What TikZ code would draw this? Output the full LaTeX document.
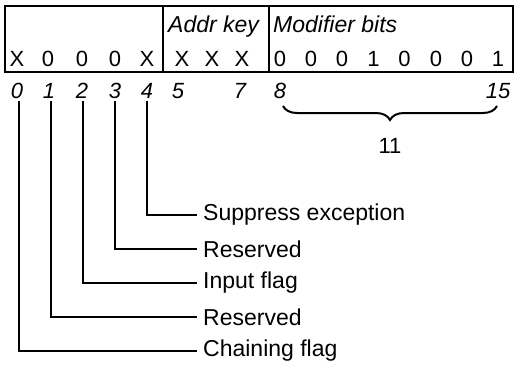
\documentclass[tikz,border=0pt]{standalone}
\usepackage{fontspec}
\setmainfont{Liberation Sans}
\usetikzlibrary{decorations.pathreplacing}
\begin{document}
\begin{tikzpicture}[x=1pt,y=-1pt,
  cell/.style={draw,line width=1.2pt,minimum height=66pt,inner sep=0pt},
  dig/.style={anchor=base,inner sep=0pt,font=\fontsize{22}{22}\selectfont},
  bitno/.style={anchor=base,inner sep=0pt,font=\fontsize{22}{22}\selectfont\itshape},
  head/.style={anchor=base west,inner sep=0pt,font=\fontsize{23}{23}\selectfont\itshape},
  lbl/.style={anchor=west,inner xsep=6pt,inner ysep=0pt,font=\fontsize{23}{23}\selectfont},
  lead/.style={line width=1.2pt}]
\useasboundingbox (0,0) rectangle (519,364);
% cells
\node[cell,minimum width=158pt] (ca) at (84,39) {};
\node[cell,minimum width=106pt] (cb) at (216,39) {};
\node[cell,minimum width=244pt] (cc) at (391,39) {};
% headers
\node[head] (hb) at (168,32) {Addr key};
\node[head] (hc) at (273,32) {Modifier bits};
% digits
\foreach \x/\t [count=\i] in {17/X,48/0,82/0,115/0,147/X,182/X,212/X,242/X,
  280/0,311/0,342/0,373.5/1,404.5/0,436/0,467/0,498/1}
  \node[dig] (d\i) at (\x,66) {\t};
% bit numbers
\foreach \x/\t in {17/0,49/1,82/2,115/3,147/4,178/5,240/7,280/8,498/15}
  \node[bitno] (b\t) at (\x,98) {\t};
% brace
\coordinate (bl) at (283,106);
\coordinate (br) at (497,106);
\draw[line width=2pt,decorate,decoration={brace,mirror,amplitude=14pt}] (bl) -- (br);
\node[dig,anchor=center] (eleven) at (390,146) {11};
% labels
\node[lbl] (l4) at (197,215) {Suppress exception};
\node[lbl] (l3) at (197,249) {Reserved};
\node[lbl] (l2) at (197,283) {Input flag};
\node[lbl] (l1) at (197,317) {Reserved};
\node[lbl] (l0) at (197,351) {Chaining flag};
% leaders
\foreach \i/\x in {0/19,1/51,2/83,3/115,4/147}
  \draw[lead] (\x,101) |- (l\i.west);
\end{tikzpicture}
\end{document}
